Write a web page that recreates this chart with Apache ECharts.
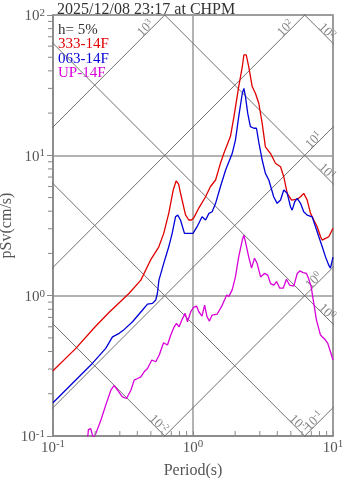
<!DOCTYPE html>
<html><head><meta charset="utf-8">
<script src="https://cdn.jsdelivr.net/npm/echarts@6/dist/echarts.min.js"></script>
<style>html,body{margin:0;padding:0;background:#fff}#c{width:347px;height:478px}</style>
</head><body><div id="c"></div>
<script>
// ---------- data ----------
const chartTitle = '2025/12/08 23:17 at CHPM';
const dampingText = 'h= 5%';
const seriesNames = ['333-14F', '063-14F', 'UP-14F'];
const xAxisName = 'Period(s)';
const yAxisName = 'pSv(cm/s)';

const periods333 = [0.1, 0.1456, 0.2, 0.25, 0.35, 0.424, 0.497, 0.570, 0.618, 0.671, 0.722, 0.759, 0.79, 0.814, 0.884, 0.933, 0.975, 1.01, 1.10, 1.23, 1.33, 1.45, 1.57, 1.66, 1.85, 1.96, 2.12, 2.25, 2.31, 2.40, 2.50, 2.65, 2.79, 2.95, 3.12, 3.29, 3.58, 3.88, 4.22, 4.45, 4.71, 5.06, 5.55, 5.86, 6.18, 6.54, 6.91, 7.29, 7.71, 8.15, 8.38, 8.84, 9.33, 10];
const psv333 = [0.292, 0.421, 0.60, 0.756, 1.04, 1.29, 1.79, 2.23, 2.78, 3.86, 5.66, 6.59, 6.2, 5.39, 3.76, 3.46, 3.46, 3.57, 4.21, 5.07, 5.97, 6.67, 8.77, 10.3, 13.6, 18.8, 30.8, 42.8, 51.9, 51.9, 42.8, 30.8, 27.7, 23.5, 16.9, 11.5, 10.3, 8.77, 8.29, 7.04, 5.36, 4.80, 4.87, 5.07, 5.36, 4.80, 3.86, 3.46, 3.10, 2.63, 2.49, 2.56, 2.63, 3.02];

const periods063 = [0.1, 0.191, 0.238, 0.266, 0.297, 0.323, 0.370, 0.436, 0.473, 0.514, 0.542, 0.557, 0.571, 0.618, 0.671, 0.71, 0.75, 0.778, 0.814, 0.869, 0.933, 1.0, 1.07, 1.16, 1.23, 1.30, 1.37, 1.45, 1.57, 1.71, 1.905, 2.01, 2.12, 2.25, 2.31, 2.37, 2.46, 2.57, 2.72, 2.84, 2.95, 3.12, 3.29, 3.48, 3.77, 3.99, 4.22, 4.45, 4.71, 4.97, 5.11, 5.33, 5.55, 5.86, 6.18, 6.54, 7.10, 7.50, 7.92, 8.38, 8.84, 9.33, 9.59, 10];
const psv063 = [0.1725, 0.329, 0.421, 0.509, 0.539, 0.575, 0.652, 0.79, 0.871, 0.881, 0.931, 1.04, 1.29, 1.70, 2.23, 2.78, 3.65, 3.75, 3.46, 2.78, 2.78, 2.78, 3.10, 3.65, 3.46, 3.86, 3.96, 4.55, 5.97, 7.86, 10.3, 12.85, 18.8, 27.7, 30.0, 26.2, 19.9, 16.0, 15.6, 15.6, 12.4, 9.26, 7.44, 6.67, 5.07, 4.55, 4.80, 5.66, 5.36, 4.30, 4.07, 4.67, 4.93, 4.55, 3.96, 3.75, 3.65, 3.10, 2.63, 2.23, 1.89, 1.65, 1.57, 1.88];

const periodsUP = [0.176, 0.179, 0.186, 0.194, 0.202, 0.22, 0.238, 0.259, 0.273, 0.289, 0.313, 0.335, 0.36, 0.38, 0.402, 0.424, 0.448, 0.473, 0.508, 0.542, 0.574, 0.616, 0.657, 0.694, 0.734, 0.762, 0.796, 0.832, 0.879, 0.913, 0.964, 1.01, 1.06, 1.10, 1.16, 1.21, 1.26, 1.31, 1.37, 1.49, 1.62, 1.74, 1.80, 1.905, 2.01, 2.12, 2.25, 2.31, 2.37, 2.50, 2.62, 2.75, 2.87, 3.04, 3.24, 3.42, 3.58, 3.78, 3.95, 4.17, 4.41, 4.65, 4.89, 5.25, 5.55, 5.79, 6.12, 6.47, 6.72, 6.98, 7.29, 7.62, 8.14, 8.84, 9.18, 9.59, 10];
const psvUP = [0.092, 0.111, 0.113, 0.096, 0.104, 0.13, 0.166, 0.212, 0.229, 0.212, 0.19, 0.185, 0.212, 0.25, 0.257, 0.264, 0.287, 0.303, 0.348, 0.338, 0.378, 0.462, 0.445, 0.524, 0.60, 0.635, 0.60, 0.67, 0.748, 0.652, 0.768, 0.825, 0.843, 0.768, 0.716, 0.857, 0.707, 0.659, 0.728, 0.74, 0.857, 1.01, 0.985, 1.10, 1.36, 1.89, 2.49, 2.70, 2.42, 1.89, 1.57, 1.85, 1.70, 1.36, 1.44, 1.40, 1.22, 1.19, 1.26, 1.13, 1.13, 1.31, 1.19, 1.17, 1.44, 1.50, 1.46, 1.44, 1.31, 1.16, 0.881, 0.67, 0.524, 0.483, 0.457, 0.398, 0.348];

// tripartite grid levels
const accelLevels = [0.1, 1, 10, 100, 1000];   // pSa (cm/s^2)
const dispLevels = [0.01, 0.1, 1, 10, 100];    // Sd (cm)

// axis ranges / minor tick multipliers
const xRange = [0.1, 10];
const yRange = [0.1, 100];
const minorMultipliers = [2, 3, 4, 5, 6, 7, 8, 9];

// ---------- styles ----------
const FONT = 'Liberation Serif';
const colors = ['#e00000', '#0000d8', '#d800d8'];
const TWO_PI = 2 * Math.PI;

function sup(v) {
  const e = Math.round(Math.log10(v));
  return '{b|10}{s|' + e + '}';
}
function richSet(base, small, color, raise) {
  return {
    b: { fontFamily: FONT, fontSize: base, lineHeight: base, color: color, padding: [raise, 0, 0, 0] },
    s: { fontFamily: FONT, fontSize: small, lineHeight: small, color: color, verticalAlign: 'top' }
  };
}

function zip(a, b) { return a.map((t, i) => [t, b[i]]); }

const series = [];

// tripartite lines
const diagStyle = { color: '#707070', width: 1 };
accelLevels.forEach(a => {
  series.push({
    type: 'line', silent: true, symbol: 'none', clip: true, z: 1,
    lineStyle: diagStyle,
    data: [[0.01, a * 0.01 / TWO_PI], [100, a * 100 / TWO_PI]]
  });
});
dispLevels.forEach(d => {
  series.push({
    type: 'line', silent: true, symbol: 'none', clip: true, z: 1,
    lineStyle: diagStyle,
    data: [[0.01, TWO_PI * d / 0.01], [100, TWO_PI * d / 100]]
  });
});

// labels for tripartite lines
const labelBack = 0.09; // decades back from visible end along the line
const accelLabelData = accelLevels.map(a => {
  const tEnd = Math.min(xRange[1], yRange[1] * TWO_PI / a);
  const t = tEnd * Math.pow(10, -labelBack);
  return { value: [t, a * t / TWO_PI], label: { formatter: sup(a), rotate: 45, offset: [-5, -5] } };
});
const dispLabelData = dispLevels.map(d => {
  const tEnd = Math.min(xRange[1], TWO_PI * d / yRange[0]);
  const t = tEnd * Math.pow(10, -labelBack);
  return { value: [t, TWO_PI * d / t], label: { formatter: sup(d), rotate: -45, offset: [5, -5] } };
});
series.push({
  type: 'scatter', silent: true, symbolSize: 0, z: 3, clip: false,
  data: accelLabelData.concat(dispLabelData),
  label: { show: true, position: 'inside', rich: richSet(13, 9, '#666', 2) }
});

// minor ticks
const minorX = [];
for (let e = -1; e < 1; e++) minorMultipliers.forEach(m => minorX.push([m * Math.pow(10, e), yRange[0]]));
const minorY = [];
for (let e = -1; e < 2; e++) minorMultipliers.forEach(m => minorY.push([xRange[0], m * Math.pow(10, e)]));
series.push({
  type: 'custom', silent: true, z: 5, clip: false,
  data: minorX,
  renderItem: (params, api) => {
    const p = api.coord([api.value(0), api.value(1)]);
    return { type: 'line', shape: { x1: p[0], y1: p[1], x2: p[0], y2: p[1] - 5 }, style: { stroke: '#888', lineWidth: 1 } };
  }
});
series.push({
  type: 'custom', silent: true, z: 5, clip: false,
  data: minorY,
  renderItem: (params, api) => {
    const p = api.coord([api.value(0), api.value(1)]);
    return { type: 'line', shape: { x1: p[0], y1: p[1], x2: p[0] - 5, y2: p[1] }, style: { stroke: '#888', lineWidth: 1 } };
  }
});

// response spectra
[[periods333, psv333], [periods063, psv063], [periodsUP, psvUP]].forEach((d, i) => {
  series.push({
    name: seriesNames[i], type: 'line', symbol: 'none', clip: true, z: 4,
    lineStyle: { color: colors[i], width: 1.3 },
    data: zip(d[0], d[1])
  });
});

const chart = echarts.init(document.getElementById('c'), null, { renderer: 'canvas' });
chart.setOption({
  animation: false,
  backgroundColor: '#fff',
  title: {
    text: chartTitle, left: 52, top: -3,
    textStyle: { fontFamily: FONT, fontSize: 16, fontWeight: 'normal', color: '#333' }
  },
  grid: {
    left: 53, right: 14, top: 15, bottom: 42, show: true, borderColor: '#888', borderWidth: 1.5,
    containLabel: false, outerBoundsMode: 'none'
  },
  xAxis: {
    type: 'log', logBase: 10, min: xRange[0], max: xRange[1],
    name: xAxisName, nameLocation: 'middle', nameGap: 27, nameMoveOverlap: false,
    nameTextStyle: { fontFamily: FONT, fontSize: 16, color: '#555' },
    axisLine: { lineStyle: { color: '#888', width: 1.5 } },
    axisTick: { inside: true, length: 5, lineStyle: { color: '#888' } },
    axisLabel: { margin: 3, formatter: v => sup(v), rich: richSet(15, 11, '#555', 3) },
    splitLine: { show: true, lineStyle: { color: '#9a9a9a', width: 1.5 } }
  },
  yAxis: {
    type: 'log', logBase: 10, min: yRange[0], max: yRange[1],
    name: yAxisName, nameLocation: 'middle', nameGap: 38, nameMoveOverlap: false,
    nameTextStyle: { fontFamily: FONT, fontSize: 16, color: '#555' },
    axisLine: { lineStyle: { color: '#888', width: 1.5 } },
    axisTick: { inside: false, length: 6, lineStyle: { color: '#888' } },
    axisLabel: { margin: 8, formatter: v => sup(v), rich: richSet(15, 11, '#555', 3) },
    splitLine: { show: true, lineStyle: { color: '#9a9a9a', width: 1.5 } }
  },
  graphic: [
    { type: 'text', left: 58, top: 23, style: { text: dampingText, font: '15px "Liberation Serif"', fill: '#333' } },
    { type: 'text', left: 58, top: 37, style: { text: seriesNames[0], font: '15px "Liberation Serif"', fill: colors[0] } },
    { type: 'text', left: 58, top: 52, style: { text: seriesNames[1], font: '15px "Liberation Serif"', fill: colors[1] } },
    { type: 'text', left: 58, top: 66, style: { text: seriesNames[2], font: '15px "Liberation Serif"', fill: colors[2] } }
  ],
  series: series
});
</script></body></html>
